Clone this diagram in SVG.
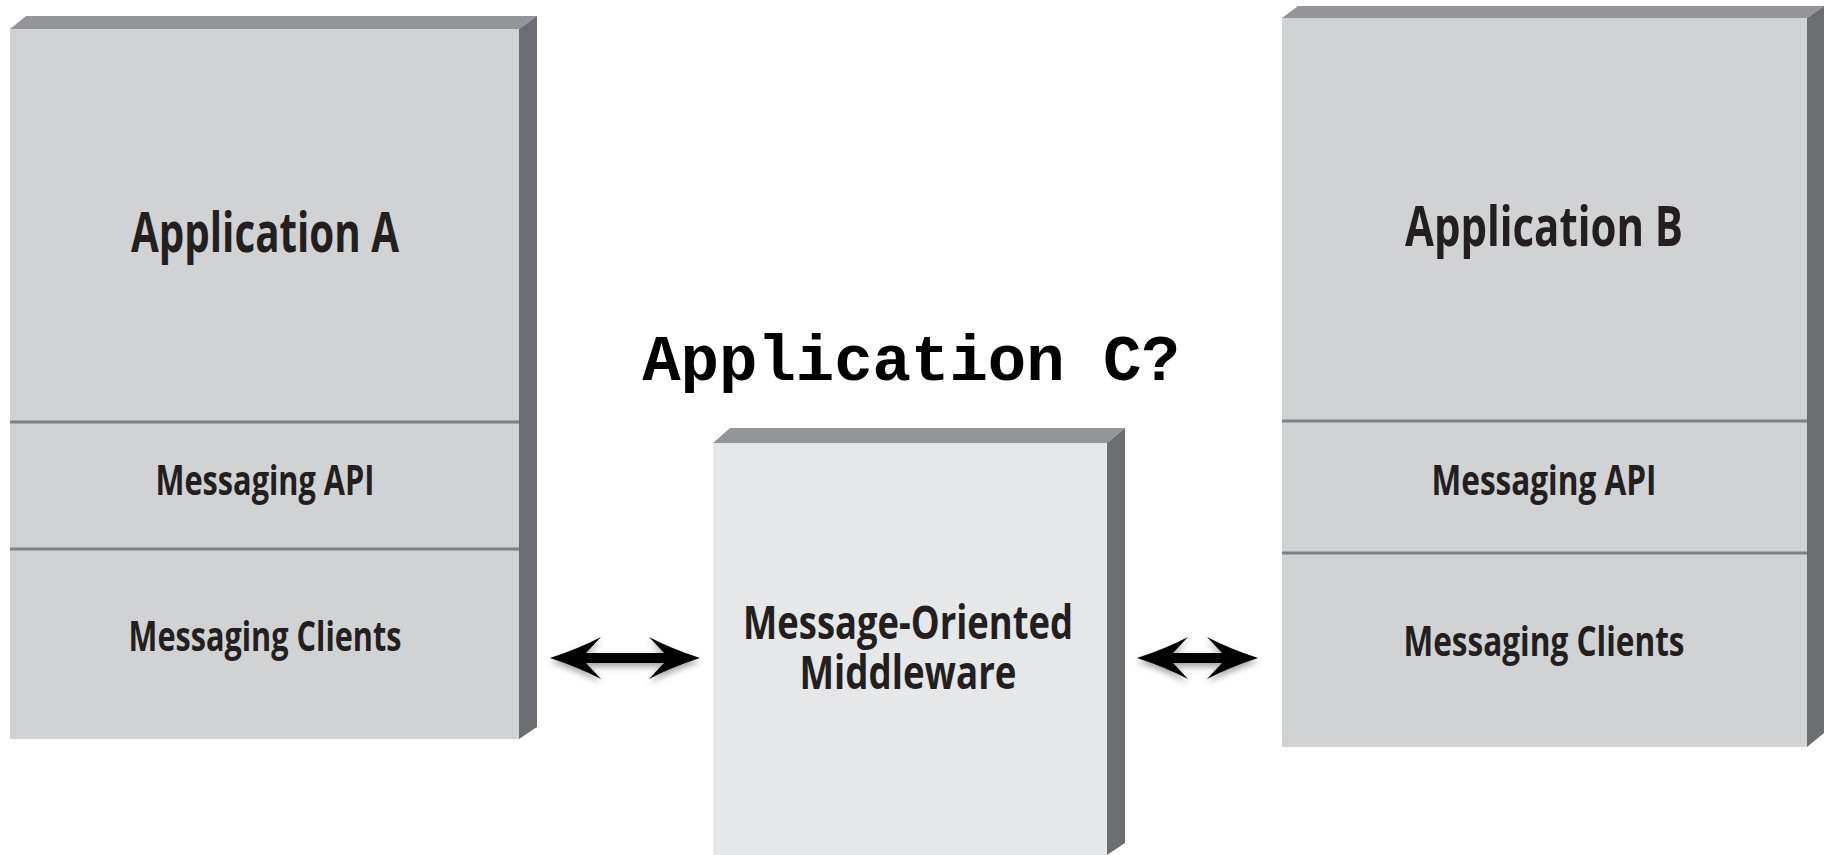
<svg xmlns="http://www.w3.org/2000/svg" width="1831" height="855" viewBox="0 0 1831 855">
<style>
.face{fill:#d1d2d4}
.face2{fill:#e6e7e8}
.top{fill:#939598}
.side{fill:#6d6e71}
.div{stroke:#7f8083;stroke-width:3}
.lbl{font-family:"Open Sans","Liberation Sans",sans-serif;font-weight:700;fill:#231f20;text-anchor:middle}
.mono{font-family:"Liberation Mono","Courier New",monospace;font-weight:700;fill:#000;text-anchor:middle}
.arrow{fill:#000}
</style>
<defs>
<filter id="sh" x="-10%" y="-50%" width="120%" height="220%">
<feDropShadow dx="0" dy="4" stdDeviation="3" flood-color="#000" flood-opacity="0.35"/>
</filter>
</defs>
<rect width="1831" height="855" fill="#fff"/>
<g id="appA">
<rect class="face" x="10" y="29" width="509" height="710"/>
<polygon class="top" points="10,29 26,16 537,16 519,29"/>
<polygon class="side" points="519,29 537,16 537,727 519,739"/>
<line class="div" x1="10" y1="422" x2="519" y2="422"/>
<line class="div" x1="10" y1="549" x2="519" y2="549"/>
<text class="lbl" x="265" y="252" font-size="56" textLength="268" lengthAdjust="spacingAndGlyphs">Application A</text>
<text class="lbl" x="265" y="495" font-size="41" textLength="219" lengthAdjust="spacingAndGlyphs">Messaging API</text>
<text class="lbl" x="265" y="651" font-size="41" textLength="273" lengthAdjust="spacingAndGlyphs">Messaging Clients</text>
</g>
<g id="appB">
<rect class="face" x="1282" y="18" width="525" height="729"/>
<polygon class="top" points="1282,18 1298,6 1824,6 1807,18"/>
<polygon class="side" points="1807,18 1824,6 1824,733 1807,747"/>
<line class="div" x1="1282" y1="421" x2="1807" y2="421"/>
<line class="div" x1="1282" y1="553" x2="1807" y2="553"/>
<text class="lbl" x="1544" y="246" font-size="56" textLength="278" lengthAdjust="spacingAndGlyphs">Application B</text>
<text class="lbl" x="1544" y="495" font-size="41" textLength="225" lengthAdjust="spacingAndGlyphs">Messaging API</text>
<text class="lbl" x="1544" y="656" font-size="41" textLength="281" lengthAdjust="spacingAndGlyphs">Messaging Clients</text>
</g>
<g id="mom">
<rect class="face2" x="713" y="443" width="394" height="412"/>
<polygon class="top" points="713,443 730,428 1125,428 1107,443"/>
<polygon class="side" points="1107,443 1125,428 1125,843 1107,855"/>
<text class="lbl" x="908" y="639" font-size="46" textLength="330" lengthAdjust="spacingAndGlyphs">Message-Oriented</text>
<text class="lbl" x="908" y="689" font-size="46" textLength="217" lengthAdjust="spacingAndGlyphs">Middleware</text>
</g>
<g id="appC">
<text class="mono" x="911" y="380" font-size="64">Application C?</text>
</g>
<g id="connectors" filter="url(#sh)">
<path class="arrow" d="M550,658 Q578,649 601,637 L586,653 L664,653 L649,637 Q672,649 700,658 Q672,667 649,679 L664,663 L586,663 L601,679 Q578,667 550,658 Z"/>
<path class="arrow" d="M1137,658 Q1165,649 1188,637 L1173,653 L1222,653 L1207,637 Q1230,649 1258,658 Q1230,667 1207,679 L1222,663 L1173,663 L1188,679 Q1165,667 1137,658 Z"/>
</g>
</svg>
